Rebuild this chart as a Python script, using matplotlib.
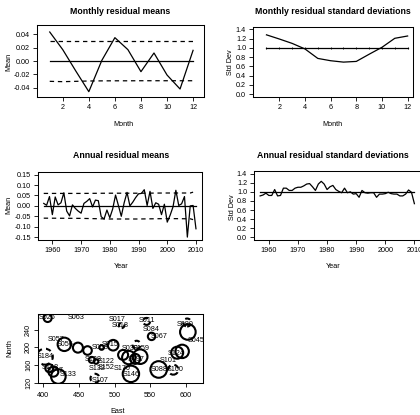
import matplotlib
matplotlib.use("Agg")
import matplotlib.pyplot as plt

plt.rcParams['font.family'] = ['Liberation Sans', 'DejaVu Sans']

# ---------------- data ----------------
months = [1, 2, 3, 4, 5, 6, 7, 8, 9, 10, 11, 12]
month_ticks = [2, 4, 6, 8, 10, 12]
month_mean = [0.0435, 0.017, -0.015, -0.046, 0.001, 0.035, 0.017, -0.016, 0.012, -0.021, -0.042, 0.016]
month_mean_upper = [0.0295, 0.0295, 0.0295, 0.0295, 0.0295, 0.0295, 0.0295, 0.0295, 0.0295, 0.0295, 0.0295, 0.0295]
month_mean_lower = [-0.0305, -0.031, -0.0305, -0.030, -0.0298, -0.0297, -0.0297, -0.0296, -0.0296, -0.0296, -0.0296, -0.0296]
month_sd = [1.28, 1.19, 1.095, 0.975, 0.77, 0.72, 0.69, 0.705, 0.86, 1.01, 1.205, 1.255]
month_sd_ref = [1.0, 1.0, 1.0, 1.0, 1.0, 1.0, 1.0, 1.0, 1.0, 1.0, 1.0, 1.0]

years = list(range(1957, 2011))
year_ticks = [1960, 1970, 1980, 1990, 2000, 2010]
year_mean = [0.012, 0.003, 0.045, -0.042, 0.043, 0.005, 0.015, 0.063, -0.025, -0.048,
             0.005, -0.012, -0.025, -0.035, 0.012, 0.022, 0.035, -0.005, 0.028, 0.025,
             -0.052, -0.063, -0.02, -0.057, -0.015, 0.052, 0.002, -0.05, 0.015, 0.065,
             0.0, 0.018, 0.04, 0.058, 0.06, 0.078, 0.002, 0.07, -0.012, 0.015,
             0.008, -0.042, 0.008, -0.078, -0.045, -0.005, 0.075, 0.002, 0.01, 0.045,
             -0.15, 0.0, 0.002, -0.11]
bound_years = [1957, 1970, 1980, 1990, 2000, 2008, 2009]
bound_upper = [0.060, 0.060, 0.061, 0.061, 0.062, 0.062, 0.066]
bound_lower = [-0.059, -0.060, -0.063, -0.063, -0.061, -0.062, -0.066]
year_sd = [0.91, 0.93, 0.97, 0.92, 0.92, 1.05, 0.91, 0.92, 1.08, 1.08,
           1.03, 1.03, 1.08, 1.10, 1.10, 1.13, 1.17, 1.18, 1.11, 1.03,
           1.17, 1.23, 1.17, 1.05, 1.11, 1.14, 1.05, 1.01, 0.98, 1.08,
           0.98, 1.0, 0.95, 0.96, 0.88, 1.03, 0.98, 0.97, 0.98, 0.98,
           0.88, 0.95, 0.95, 0.96, 0.99, 0.96, 0.95, 0.95, 0.91, 0.91,
           0.95, 1.04, 0.99, 0.74]
year_sd_ref_years = [1957, 2010]
year_sd_ref = [1.0, 1.0]

mean_ticks_m = [-0.04, -0.02, 0.00, 0.02, 0.04]
mean_ticks_y = [-0.15, -0.10, -0.05, 0.00, 0.05, 0.10, 0.15]
sd_ticks = [0.0, 0.2, 0.4, 0.6, 0.8, 1.0, 1.2, 1.4]

# station map
lab_east = [406, 446, 504, 508.6, 545, 552, 562.8, 599.3, 614.3, 417.7, 430.3, 402.3,
            479.6, 493.7, 521.7, 538, 470, 488, 476, 488.8, 409.2, 416.2, 435, 479.6,
            524, 510, 575.5, 584.8, 562.8, 587.2, 531]
lab_north = [268, 268.2, 263, 249.2, 260.6, 241.6, 225, 253, 215, 218.8, 207.4, 179,
             199.8, 206, 196.8, 196.8, 171.7, 168, 152.8, 155, 155, 147.5, 137.6, 124.7,
             137.6, 152.8, 169.5, 149, 150.5, 187, 171.7]
lab_text = ["S026", "S063", "S017", "S018", "S011", "S084", "S067", "S080", "S045", "S057", "S056", "S184",
            "S058", "S015", "S030", "S159", "S128", "S122", "S132", "S152", "S148", "S147", "S133", "S107",
            "S146", "S170", "S101", "S100", "S088", "S124", "S097"]
circ_east = [406, 545, 510, 552, 603, 602, 429.4, 448.5, 462, 481.8, 498, 402,
             512, 520, 529, 536, 531, 523, 562, 582.5, 588, 595, 408.3, 414, 421,
             468, 474, 472.5]
circ_north = [266.7, 259, 250, 225, 235, 256.5, 207, 199.5, 193, 199.8, 205, 179,
              183, 177, 174, 179, 206, 140, 150, 149.5, 188, 191, 152.8, 145, 134,
              171.7, 168, 130]
circ_resid = [0.40, -0.35, -0.27, 0.37, 0.78, -0.40, 0.67, 0.50, 0.43, 0.23, 0.53, -0.80,
              0.50, 0.67, 0.50, 0.73, -0.40, 0.82, 0.83, -0.50, 0.60, 0.67, 0.40, 0.50, 0.73,
              0.30, 0.23, -0.45]
east_ticks = [400, 450, 500, 550, 600]
north_ticks = [120, 160, 200, 240]

# ---------------- figure ----------------
W, H = 420, 415
fig = plt.figure(figsize=(W / 100, H / 100), dpi=100)

FS = 5.2
TFS = 6.3
LW = 0.9


def add_ax(x0, y0, x1, y1):
    ax = fig.add_axes([x0 / W, 1 - y1 / H, (x1 - x0) / W, (y1 - y0) / H])
    for s in ax.spines.values():
        s.set_linewidth(0.75)
    ax.tick_params(labelsize=FS, length=3, width=0.6, pad=2, colors='black')
    return ax


def ftext(x, y, s, **kw):
    fig.text(x / W, 1 - y / H, s, ha='center', va='center', **kw)


dash = (0, (3.5, 3))

# top-left
ax1 = add_ax(36.7, 25, 203.5, 97)
ax1.plot(months, month_mean, color='black', lw=LW)
ax1.plot(months, [0] * len(months), color='black', lw=LW)
ax1.plot(months, month_mean_upper, color='black', lw=LW, ls=dash)
ax1.plot(months, month_mean_lower, color='black', lw=LW, ls=dash)
ax1.set_xlim(0.0, 12.8)
ax1.set_ylim(-0.054, 0.054)
ax1.set_xticks(month_ticks)
ax1.set_yticks(mean_ticks_m)
ax1.set_yticklabels([f"{v:.2f}" for v in mean_ticks_m])
ftext(120, 11, "Monthly residual means", fontsize=TFS, fontweight='bold')
ftext(123, 125, "Month", fontsize=FS)
ftext(8.5, 62, "Mean", fontsize=FS, rotation=90)

# top-right
ax2 = add_ax(253, 26.7, 413, 96.6)
ax2.plot(months, month_sd, color='black', lw=LW)
ax2.plot(months, month_sd_ref, color='black', lw=LW, marker='|', ms=2, mew=0.6)
ax2.set_xlim(-0.05, 12.42)
ax2.set_ylim(-0.056, 1.456)
ax2.set_xticks(month_ticks)
ax2.set_yticks(sd_ticks)
ax2.set_yticklabels([f"{v:.1f}" for v in sd_ticks])
ftext(333, 11, "Monthly residual standard deviations", fontsize=TFS, fontweight='bold')
ftext(332, 125, "Month", fontsize=FS)
ftext(230, 61.7, "Std Dev", fontsize=FS, rotation=90)

# middle-left
ax3 = add_ax(37.7, 172, 202, 240)
ax3.plot(years, year_mean, color='black', lw=LW)
ax3.plot([years[0], years[-1]], [0, 0], color='black', lw=LW)
ax3.plot(bound_years, bound_upper, color='black', lw=LW, ls=dash)
ax3.plot(bound_years, bound_lower, color='black', lw=LW, ls=dash)
ax3.set_xlim(1954.9, 2012.1)
ax3.set_ylim(-0.164, 0.163)
ax3.set_xticks(year_ticks)
ax3.set_yticks(mean_ticks_y)
ax3.set_yticklabels([f"{v:.2f}" for v in mean_ticks_y])
ftext(120.7, 155, "Annual residual means", fontsize=TFS, fontweight='bold')
ftext(120.7, 267, "Year", fontsize=FS)
ftext(8.5, 205, "Mean", fontsize=FS, rotation=90)

# middle-right
ax4 = add_ax(254, 171, 420.5, 240)
ax4.plot(years, year_sd, color='black', lw=LW)
ax4.plot(year_sd_ref_years, year_sd_ref, color='black', lw=LW)
ax4.set_xlim(1954.9, 2012.1)
ax4.set_ylim(-0.056, 1.456)
ax4.set_xticks(year_ticks)
ax4.set_yticks(sd_ticks)
ax4.set_yticklabels([f"{v:.1f}" for v in sd_ticks])
ftext(333, 155, "Annual residual standard deviations", fontsize=TFS, fontweight='bold')
ftext(333, 267, "Year", fontsize=FS)
ftext(232.5, 206.7, "Std Dev", fontsize=FS, rotation=90)

# bottom: station map
ax5 = add_ax(37.7, 314, 203.3, 383.3)
scale = 10 * 2 * 0.72  # diameter in points per residual unit
sol = [i for i, r in enumerate(circ_resid) if r > 0]
neg = [i for i, r in enumerate(circ_resid) if r < 0]
ax5.scatter([circ_east[i] for i in sol], [circ_north[i] for i in sol],
            s=[(abs(circ_resid[i]) * scale) ** 2 for i in sol],
            facecolors='none', edgecolors='black', linewidths=1.5)
ax5.scatter([circ_east[i] for i in neg], [circ_north[i] for i in neg],
            s=[(abs(circ_resid[i]) * scale) ** 2 for i in neg],
            facecolors='none', edgecolors='black', linewidths=1.5, linestyles=(0, (2.5, 2)))
for e, n, t in zip(lab_east, lab_north, lab_text):
    ax5.text(e, n, t, fontsize=5.2, ha='center', va='center', clip_on=True)
ax5.set_xlim(392, 624.7)
ax5.set_ylim(118.6, 275.8)
ax5.set_xticks(east_ticks)
ax5.set_yticks(north_ticks)
ax5.tick_params(axis='y', pad=1)
ax5.tick_params(axis='x', pad=3.5)
for lbl in ax5.get_yticklabels():
    lbl.set_rotation(90)
    lbl.set_va('center')
ftext(117.3, 411, "East", fontsize=FS)
ftext(10, 348.3, "North", fontsize=FS, rotation=90)

fig.savefig("out.png", dpi=100)
